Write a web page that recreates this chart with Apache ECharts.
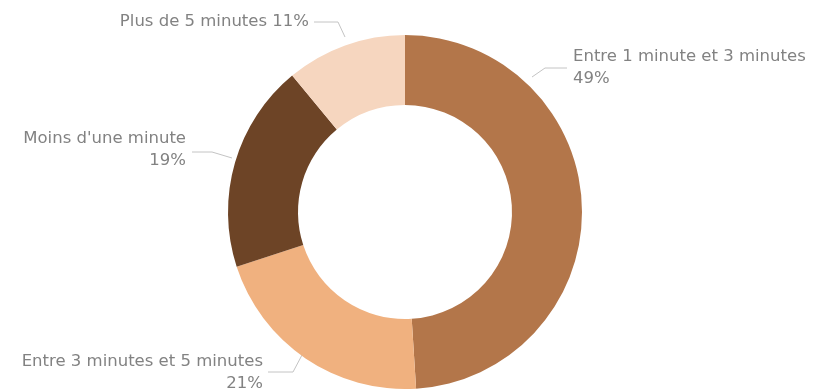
<!DOCTYPE html>
<html>
<head>
<meta charset="utf-8">
<script src="https://cdn.jsdelivr.net/npm/echarts@6/dist/echarts.min.js"></script>
<style>
  html, body { margin: 0; padding: 0; background: #fff; }
  #chart { width: 817px; height: 390px; }
</style>
</head>
<body>
<div id="chart"></div>
<script>
const categories = [
  'Entre 1 minute et 3 minutes',
  'Entre 3 minutes et 5 minutes',
  "Moins d'une minute",
  'Plus de 5 minutes'
]
const values = [49, 21, 19, 11]
const colors = ['#b3764a', '#f0b17f', '#6d4426', '#f6d6bf']
// single-line label for the small top slice
const singleLine = [false, false, false, true]

// label placement (Power BI style, pushed away from mid-angle)
const labelPos = [
  { x: 573, y: 68, align: 'left', line: [[532, 77], [545, 68], [567, 68]] },
  { x: 263, y: 373, align: 'right', line: [[302, 355], [293, 372], [268, 372]] },
  { x: 186, y: 150, align: 'right', line: [[232, 158], [212, 152], [192, 152]] },
  { x: 309, y: 22, align: 'right', line: [[345, 37], [338, 22], [314, 22]] }
]

const chart = echarts.init(document.getElementById('chart'))

chart.setOption({
  backgroundColor: '#fff',
  animation: false,
  series: [{
    type: 'pie',
    center: [405, 212],
    radius: [107, 177],
    startAngle: 90,
    clockwise: true,
    avoidLabelOverlap: false,
    label: {
      show: true,
      color: '#828282',
      fontFamily: 'DejaVu Sans',
      fontSize: 16.5,
      lineHeight: 22,
      formatter: p => singleLine[p.dataIndex]
        ? p.name + ' ' + p.value + '%'
        : p.name + '\n' + p.value + '%'
    },
    labelLine: {
      show: true,
      lineStyle: { color: '#c4c4c4', width: 1 }
    },
    labelLayout: p => {
      const l = labelPos[p.dataIndex]
      return {
        x: l.x,
        y: l.y,
        align: l.align,
        verticalAlign: 'middle',
        labelLinePoints: l.line
      }
    },
    data: categories.map((name, i) => ({
      name,
      value: values[i],
      itemStyle: { color: colors[i] }
    }))
  }]
})
</script>
</body>
</html>
